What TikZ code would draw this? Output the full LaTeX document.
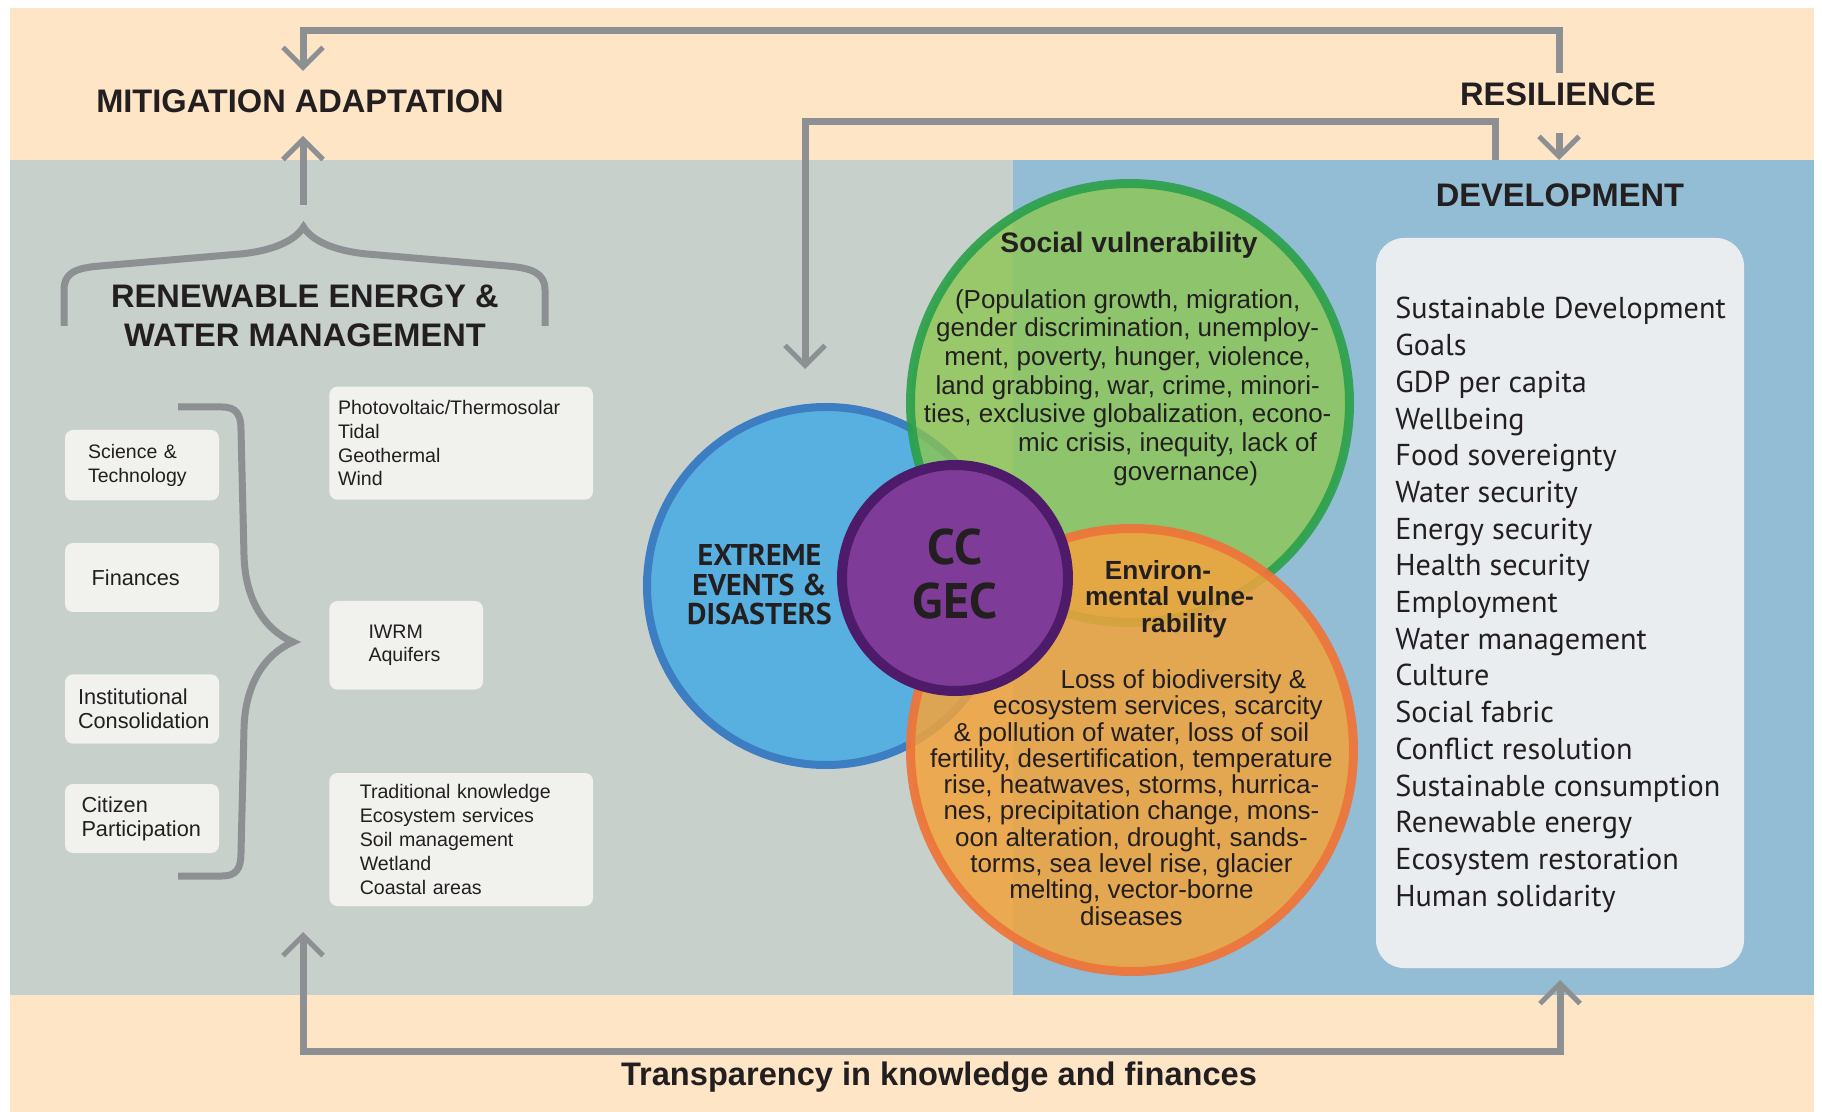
\documentclass[tikz,border=0pt]{standalone}
\usepackage{fontspec}
\setmainfont{Liberation Sans}
\newfontfamily\myr{PT Sans}
\usetikzlibrary{arrows.meta}
\definecolor{beige}{HTML}{FDE5C6}
\definecolor{grayreg}{HTML}{C8D0CB}
\definecolor{bluereg}{HTML}{92BDD5}
\definecolor{agray}{HTML}{8D9092}
\definecolor{boxc}{HTML}{F1F1EE}
\definecolor{devc}{HTML}{E9EDF0}
\definecolor{textc}{HTML}{231F20}
\definecolor{ebfill}{HTML}{58B0E0}
\definecolor{ebline}{HTML}{3D7DC2}
\definecolor{sgfill}{HTML}{8DC64F}
\definecolor{sgline}{HTML}{2AA04A}
\definecolor{eofill}{HTML}{F2A43C}
\definecolor{eoline}{HTML}{EE743A}
\definecolor{ppfill}{HTML}{7F3B98}
\definecolor{ppline}{HTML}{4E1B6B}
\newcommand\setfs[2]{\fontsize{#1pt}{#2pt}\selectfont}
\begin{document}
\begin{tikzpicture}[x=0.5pt,y=-0.5pt,
  txt/.style={text=textc, inner sep=0pt},
  head/.style={txt, font=\setfs{16.3}{19.5}\bfseries, align=center},
  conn/.style={draw=agray, line width=3.5pt},
  barb/.style={-{Straight Barb[length=10pt,width=20pt,line width=2.5pt]}},
  barbboth/.style={{Straight Barb[length=10pt,width=20pt,line width=2.5pt]}-{Straight Barb[length=10pt,width=20pt,line width=2.5pt]}},
  brace/.style={draw=agray, line width=3.5pt},
  lbox/.style={fill=boxc, rounded corners=4pt, inner ysep=0pt, align=left, text=textc},
  ring/.style={circle, inner sep=0pt},
  body/.style={txt, font=\setfs{13}{14.35}, align=center}
]
\useasboundingbox (0,0) rectangle (1822,1112);
\fill[white] (0,0) rectangle (1822,1112);
% backgrounds
\fill[beige] (10,8) rectangle (1814,1112);
\fill[grayreg] (10,160) rectangle (1013,995);
\fill[bluereg] (1013,160) rectangle (1814,995);

% headings
\node[head] (mitig) at (300,101) {MITIGATION ADAPTATION};
\node[head] (resil) at (1558,94) {RESILIENCE};
\node[head] (devel) at (1560,195) {DEVELOPMENT};
\node[head] (renew) at (305,315.5) {RENEWABLE ENERGY \&\\WATER MANAGEMENT};
\node[head] (transp) at (939,1077) {Transparency in knowledge and finances};

% connectors
\coordinate (rtop) at (1559,73);
\coordinate (mtip) at (303,71);
\draw[conn,barb] (rtop) -- ++(0,-42) -| (mtip);
\coordinate (r2a) at (1559,133);
\coordinate (r2b) at (1559,160);
\draw[conn,barb] (r2a) -- (r2b);
\coordinate (s2) at (1495,160);
\coordinate (etip) at (805,369);
\draw[conn,barb] (s2) -- ++(0,-38) -| (etip);
\coordinate (bracetop) at (303,205);
\coordinate (mtipb) at (303,136);
\draw[conn,barb] (bracetop) -- (mtipb);
\coordinate (blt) at (303,932);
\coordinate (brt) at (1560,980);
\draw[conn,barbboth] (blt) -- ++(0,119) -| (brt);

% braces
\draw[brace] (64,326) -- (64,290) .. controls (64,273) and (75,268) .. (100,266)
  -- (240,254) .. controls (272,251) and (295,241) .. (303.5,227)
  .. controls (312,241) and (335,251) .. (367,254)
  -- (507,266) .. controls (532,268) and (545,273) .. (545,290) -- (545,326);
\draw[brace] (178,407) -- (222,407) .. controls (236,407) and (241,414) .. (241,430)
  -- (244,555) .. controls (245,600) and (265,630) .. (293,642)
  .. controls (265,654) and (245,684) .. (244,729)
  -- (241,853) .. controls (241,869) and (236,876) .. (222,876) -- (178,876);

% left boxes
\node[lbox, minimum width=77pt, minimum height=35.25pt, text width=54pt, inner xsep=11.5pt, font=\setfs{9.75}{12}] (sci) at (142,465.25) {Science \&\\Technology};
\node[lbox, minimum width=77pt, minimum height=34.5pt, text width=50.3pt, inner xsep=13.35pt, font=\setfs{10.85}{12}] (fin) at (142,577.5) {Finances};
\node[lbox, minimum width=77pt, minimum height=34.6pt, text width=64pt, inner xsep=6.5pt, font=\setfs{10.85}{12}] (inst) at (142,709) {Institutional\\Consolidation};
\node[lbox, minimum width=77pt, minimum height=34.5pt, text width=60.5pt, inner xsep=8.25pt, font=\setfs{10.85}{12}] (cit) at (142,818.5) {Citizen\\Participation};

% right boxes
\node[lbox, minimum width=131.8pt, minimum height=56.55pt, text width=123.2pt, inner xsep=4.3pt, font=\setfs{9.8}{11.9}] (ren) at (461.2,443.15) {Photovoltaic/Thermosolar\\Tidal\\Geothermal\\Wind};
\node[lbox, minimum width=76.8pt, minimum height=44.25pt, text width=37.7pt, inner xsep=19.55pt, font=\setfs{9.8}{11.9}] (iwrm) at (406.2,645.25) {IWRM\\Aquifers};
\node[lbox, minimum width=131.8pt, minimum height=66.5pt, text width=101.4pt, inner xsep=15.2pt, font=\setfs{9.8}{11.9}] (trad) at (461.2,839.5) {Traditional knowledge\\Ecosystem services\\Soil management\\Wetland\\Coastal areas};

% circles
\node[ring, minimum size=179pt, draw=ebline, fill=ebfill, line width=4pt] (ee) at (826,586) {};
\node[ring, minimum size=219.5pt, draw=sgline, fill=sgfill, line width=4.5pt, fill opacity=0.78, draw opacity=0.9] (sv) at (1130,403) {};
\node[ring, minimum size=221.5pt, draw=eoline, fill=eofill, line width=4.5pt, fill opacity=0.85, draw opacity=0.92] (ev) at (1132,750) {};
\node[ring, minimum size=113pt, draw=ppline, fill=ppfill, line width=5pt] (cc) at (955,578) {};

% circle texts
\node[txt, font=\setfs{14.1}{16}\bfseries] (svh) at (1129,245) {Social vulnerability};
\node[body] (svb) at (1127.7,387.5) {(Population growth, migration,\\gender discrimination, unemploy-\\ment, poverty, hunger, violence,\\land grabbing, war, crime, minori-\\ties, exclusive globalization, econo-\\\hspace*{39.8pt}mic crisis, inequity, lack of\\\hspace*{58pt}governance)};
\node[txt, font=\setfs{13.1}{13.2}\bfseries, align=center] (evh) at (1158,599) {Environ-\\\hspace*{11.5pt}mental vulne-\\\hspace*{26pt}rability};
\node[body, font=\setfs{13}{13.15}] (evb) at (1131.4,797.5) {\hspace*{52pt}Loss of biodiversity \&\\\hspace*{26.5pt}ecosystem services, scarcity\\\& pollution of water, loss of soil\\fertility, desertification, temperature\\rise, heatwaves, storms, hurrica-\\nes, precipitation change, mons-\\oon alteration, drought, sands-\\torms, sea level rise, glacier\\melting, vector-borne\\diseases};
\node[txt, font=\myr\setfs{15}{14.85}\bfseries, align=center] (eeh) at (759.5,584.6) {EXTREME\\EVENTS \&\\DISASTERS};
\node[txt, font=\myr\setfs{25}{27}\bfseries, align=center] (cch) at (955,574) {CC\\GEC};

% development box
\node[fill=devc, rounded corners=14pt, minimum width=184pt, minimum height=365pt, inner sep=0pt] (devbox) at (1560,603) {};
\node[txt, anchor=north west, align=left, font=\myr\setfs{15.1}{18.35}] (devlist) at (1395,297) {Sustainable Development\\Goals\\GDP per capita\\Wellbeing\\Food sovereignty\\Water security\\Energy security\\Health security\\Employment\\Water management\\Culture\\Social fabric\\Conflict resolution\\Sustainable consumption\\Renewable energy\\Ecosystem restoration\\Human solidarity};
\end{tikzpicture}
\end{document}
